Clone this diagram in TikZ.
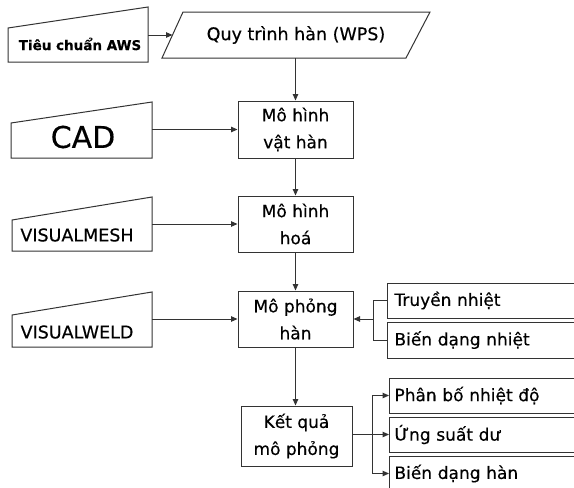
\documentclass[tikz,border=0pt]{standalone}
\usepackage{fontspec}
\setmainfont{DejaVu Sans}[FakeBold=0.4]
\usetikzlibrary{arrows.meta}
\begin{document}
\begin{tikzpicture}[x=1pt,y=-1pt,
  line/.style={draw=black!80,line width=1pt},
  arr/.style={line,-{Triangle[length=6.5pt,width=5.5pt]}},
  mainbox/.style={line,rectangle,inner sep=0pt,align=center,font=\fontsize{17}{27}\selectfont},
  sidebox/.style={line,rectangle,anchor=west,minimum width=200pt,inner sep=0pt,text width=196pt,align=left,font=\fontsize{17}{20}\selectfont},
  lbl/.style={inner sep=0pt,font=\fontsize{17.5}{20}\selectfont}]
\useasboundingbox (0,0) rectangle (574,488);
\clip (0,0) rectangle (574,488);
\fill[white] (0,0) rectangle (574,488);

% manual input shapes
\draw[line] (8,62) -- (148,62) -- (148,7) -- (8,28) -- cycle;
\node[inner sep=0pt,font=\bfseries\fontsize{13.5}{16}\selectfont] (aws) at (80,44) {Tiêu chuẩn AWS};
\draw[line] (11,158) -- (152,158) -- (152,102) -- (11,123) -- cycle;
\node[inner sep=0pt,font=\fontsize{30}{34}\selectfont] (cad) at (83,137) {CAD};
\draw[line] (12,251) -- (152,251) -- (152,197) -- (12,220) -- cycle;
\node[lbl] (mesh) at (77,235) {VISUALMESH};
\draw[line] (12,347) -- (152,347) -- (152,292) -- (12,315) -- cycle;
\node[lbl] (weld) at (77,332) {VISUALWELD};
\coordinate (awsout) at (148,35);
\coordinate (cadout) at (152,129.5);
\coordinate (meshout) at (152,224);
\coordinate (weldout) at (152,319);

% WPS parallelogram
\draw[line] (162,58) -- (406,58) -- (430,12) -- (183,12) -- cycle;
\node[lbl] (wps) at (296,35) {Quy trình hàn (WPS)};
\coordinate (wpsin) at (172.5,35);
\coordinate (wpsout) at (295.5,58);

% main boxes
\node[mainbox,minimum width=115pt,minimum height=57pt] (m1) at (295.5,129.5) {Mô hình\\vật hàn};
\node[mainbox,minimum width=115pt,minimum height=56pt] (m2) at (295.5,224) {Mô hình\\hoá};
\node[mainbox,minimum width=115pt,minimum height=56pt] (m3) at (295.5,319) {Mô phỏng\\hàn};
\node[mainbox,minimum width=111pt,minimum height=60pt] (m4) at (296.5,436) {Kết quả\\mô phỏng};

% right boxes
\node[sidebox,minimum height=35pt] (t1) at (387,300.5) {\hspace{5pt}Truyền nhiệt};
\node[sidebox,minimum height=36pt] (t2) at (387,340) {\hspace{5pt}Biến dạng nhiệt};
\node[sidebox,minimum height=35pt] (r1) at (389,395.5) {\hspace{3pt}Phân bố nhiệt độ};
\node[sidebox,minimum height=35pt] (r2) at (389,434.5) {\hspace{3pt}Ứng suất dư};
\node[sidebox,minimum height=35pt] (r3) at (389,473.5) {\hspace{3pt}Biến dạng hàn};

% connectors
\draw[arr] (awsout) -- (wpsin);
\draw[arr] (wpsout) -- (m1.north);
\draw[arr] (cadout) -- (m1.west);
\draw[arr] (m1.south) -- (m2.north);
\draw[arr] (meshout) -- (m2.west);
\draw[arr] (m2.south) -- (m3.north);
\draw[arr] (weldout) -- (m3.west);
\draw[arr] (m3.south) -- (m3.south|-m4.north);

\coordinate (j1) at (373,319);
\draw[line] (t1.west) -| (j1);
\draw[line] (t2.west) -| (j1);
\draw[arr] (j1) -- (m3.east);

\coordinate (j2) at (372,434.5);
\draw[line] (m4.east|-j2) -- (j2);
\draw[arr] (j2) |- (r1.west);
\draw[arr] (j2) -- (r2.west);
\draw[arr] (j2) |- (r3.west);
\end{tikzpicture}
\end{document}
